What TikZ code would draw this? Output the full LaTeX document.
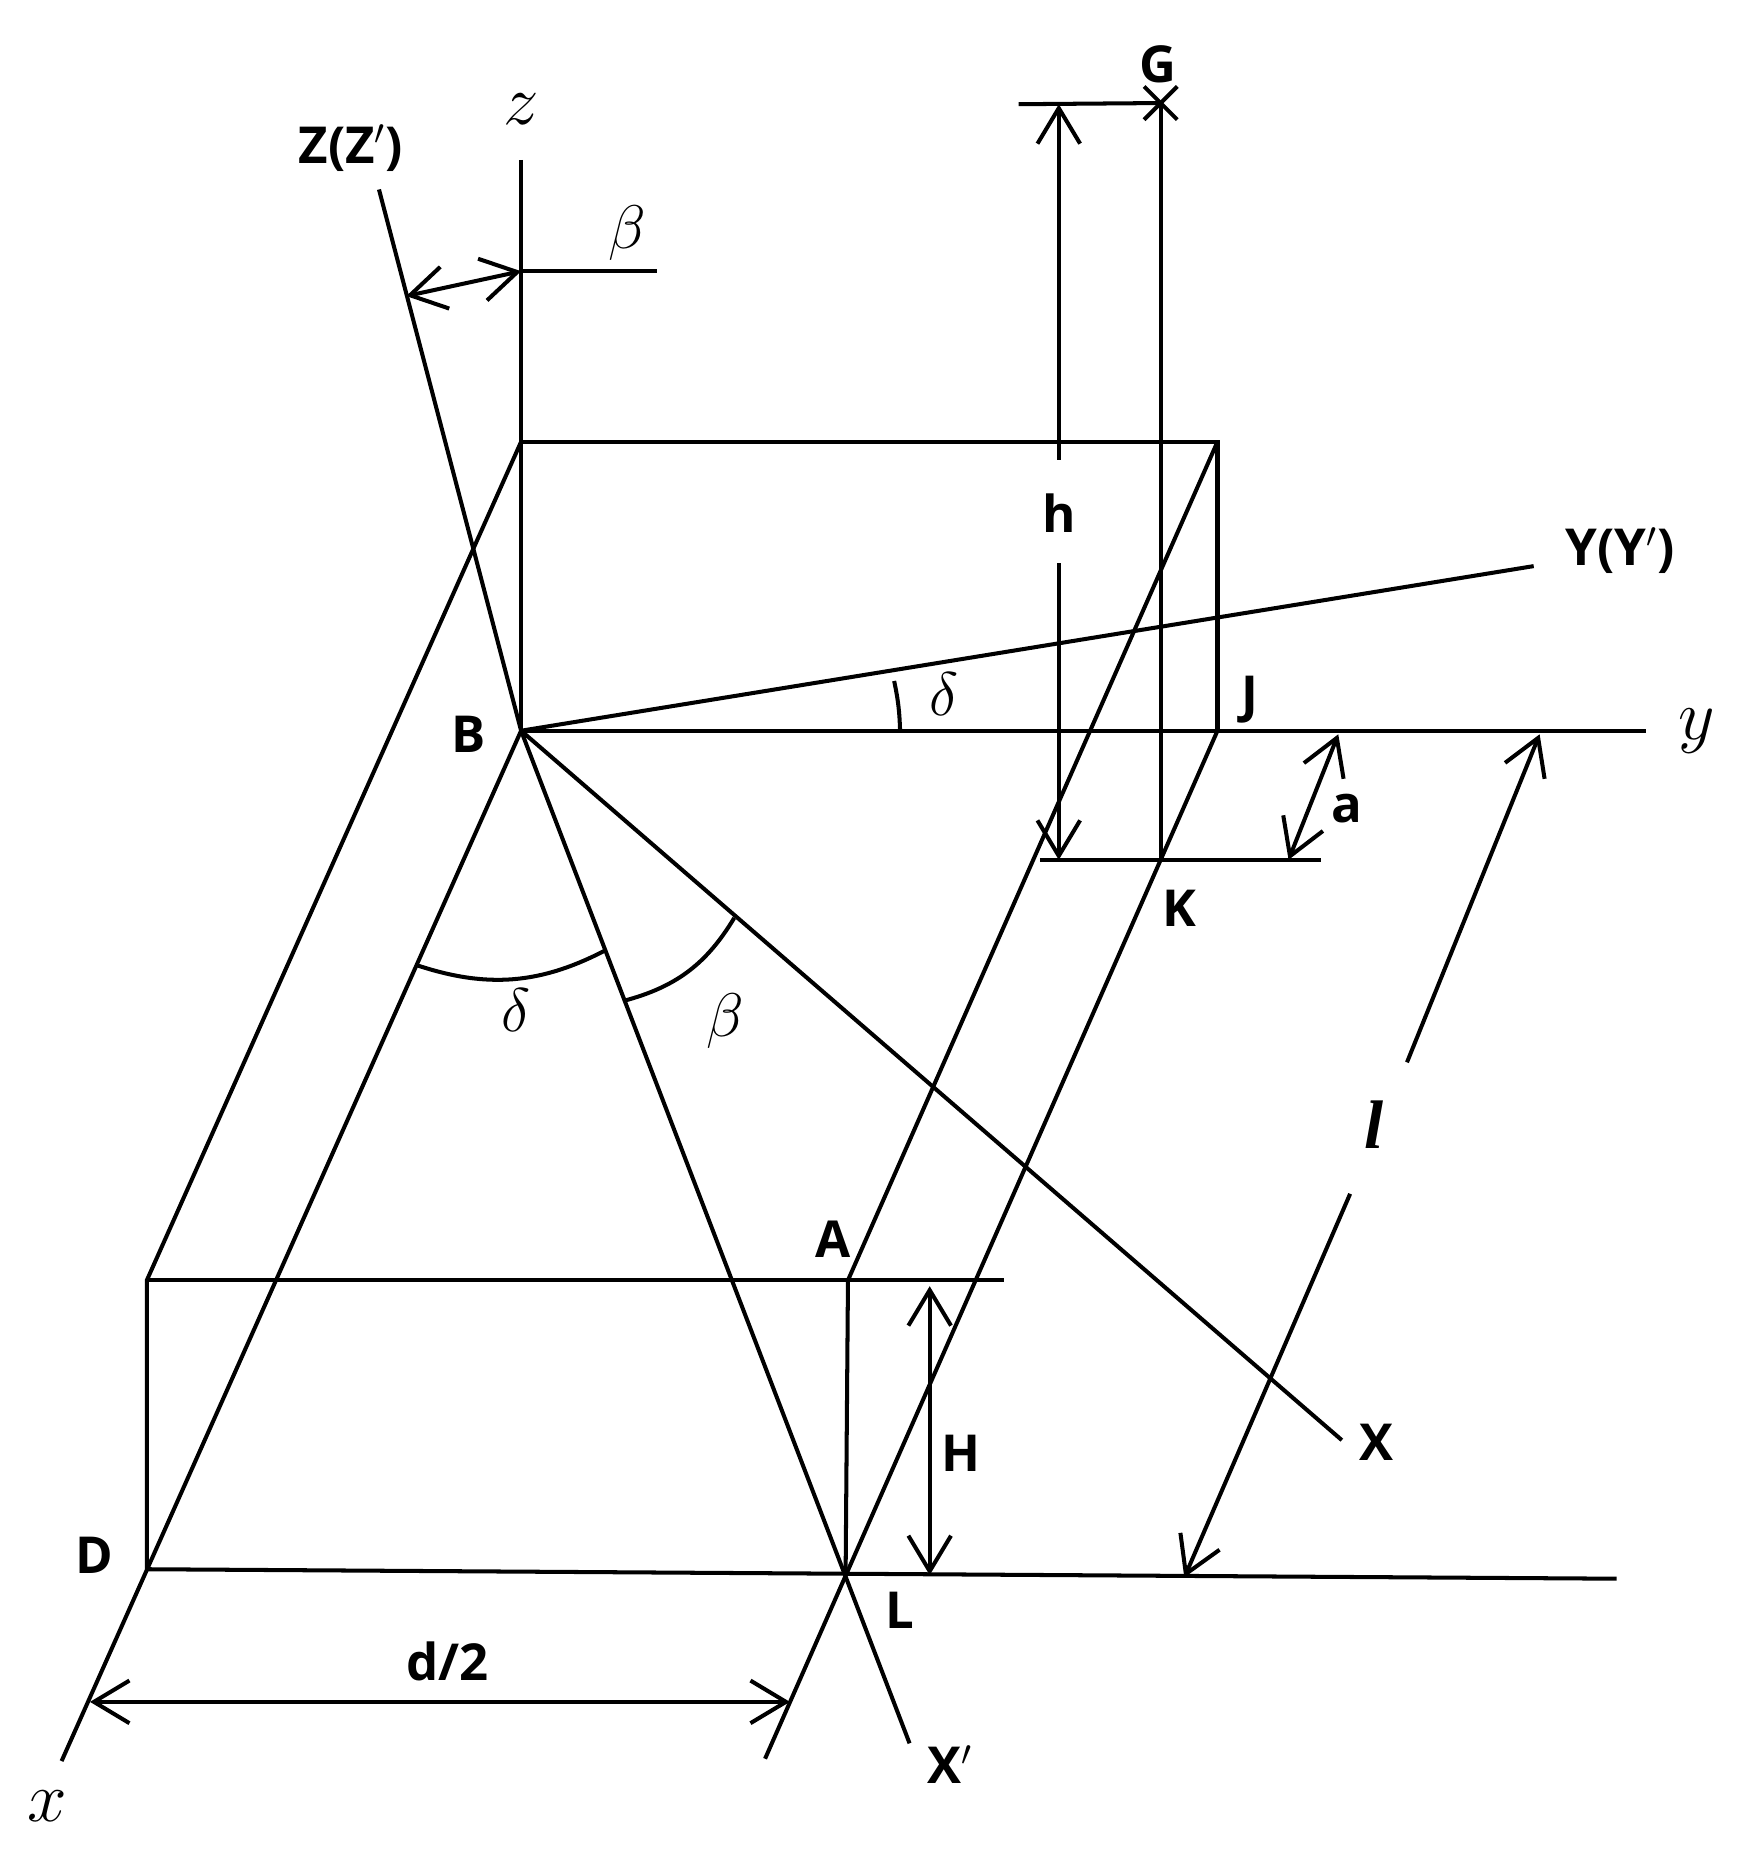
\documentclass[tikz,border=0pt]{standalone}
\usepackage{fix-cm}
\usepackage{amsmath}
\usepackage[no-math]{fontspec}
\setmainfont{Open Sans}
\newfontfamily\elfont{Liberation Serif}
\usetikzlibrary{arrows.meta}
\tikzset{
  ln/.style={line width=3.4pt},
  dim/.style={ln, {Straight Barb[length=30pt,width=36pt,line width=3.4pt]}-{Straight Barb[length=30pt,width=36pt,line width=3.4pt]}},
  tiptop/.style={ln, {Straight Barb[length=30pt,width=36pt,line width=3.4pt]}-},
  lab/.style={font=\fontsize{43}{45}\selectfont\bfseries, inner sep=0pt},
  sym/.style={font=\fontsize{52}{54}\selectfont, inner sep=0pt},
  axs/.style={font=\fontsize{60}{62}\selectfont, inner sep=0pt},
  len/.style={font=\fontsize{58}{60}\selectfont\elfont\bfseries\itshape, inner sep=0pt}
}
\begin{document}
\begin{tikzpicture}[x=1pt,y=-1pt]
  \useasboundingbox (0,0) rectangle (1477,1568);
  % frame points
  \coordinate (B) at (440,617);
  \coordinate (P) at (440,373);
  \coordinate (Q) at (1028,373);
  \coordinate (J) at (1028,617);
  \coordinate (K) at (980,726);
  \coordinate (G) at (980,87);
  \coordinate (R) at (124,1081);
  \coordinate (S) at (716,1081);
  \coordinate (T) at (848,1081);
  \coordinate (D) at (124,1325);
  \coordinate (L) at (714,1330);
  \coordinate (E) at (1365,1333);
  % axis ends
  \coordinate (zEnd) at (440,135);
  \coordinate (yEnd) at (1390,617);
  \coordinate (xEnd) at (52,1487);
  \coordinate (ZEnd) at (320,160);
  \coordinate (YEnd) at (1295,478);
  \coordinate (XEnd) at (1133,1216);
  \coordinate (XpEnd) at (768,1472);
  \coordinate (JEnd) at (646,1485);
  % labels
  \node[lab] (Gl) at (978,54) {G};
  \node[lab] (Zl) at (296,125) {Z(Z$'$)};
  \node[lab] (Yl) at (1368,465) {Y(Y$'$)};
  \node[lab] (Jl) at (1055,591) {J};
  \node[lab] (Bl) at (396,620) {B};
  \node[lab] (Kl) at (996,767) {K};
  \node[lab] (Al) at (703,1046) {A};
  \node[lab] (Dl) at (80,1313) {D};
  \node[lab] (Ll) at (760,1360) {L};
  \node[lab] (Xl) at (1162,1218) {X};
  \node[lab] (Xpl) at (802,1490) {X$'$};
  \node[lab] (hl) at (894,433) {h};
  \node[lab] (al) at (1137,683) {a};
  \node[lab] (Hl) at (811,1227) {H};
  \node[lab] (dl) at (378,1403) {d/2};
  \node[axs] (zl) at (440,92) {$z$};
  \node[axs] (yl) at (1433,617) {$y$};
  \node[axs] (xl) at (40,1525) {$x$};
  \node[sym] (bta) at (530,197) {$\beta$};
  \node[sym] (btb) at (612,862) {$\beta$};
  \node[sym] (dlta) at (797,586) {$\delta$};
  \node[sym] (dltb) at (436,853) {$\delta$};
  \node[len] (ll) at (1160,950) {l};
  % box and axes
  \draw[ln] (zEnd) -- (B) -- (yEnd);
  \draw[ln] (P) -- (Q) -- (J);
  \draw[ln] (B) -- (YEnd);
  \draw[ln] (B) -- (XEnd);
  \draw[ln] (B) -- (xEnd);
  \draw[ln] (ZEnd) -- (B) -- (XpEnd);
  \draw[ln] (P) -- (R) -- (D);
  \draw[ln] (R) -- (T);
  \draw[ln] (S) -- (L);
  \draw[ln] (S) -- (Q);
  \draw[ln] (J) -- (JEnd);
  \draw[ln] (D) -- (E);
  \draw[ln] (G) -- (K);
  % cross at G
  \coordinate (c1) at (966,73);
  \coordinate (c2) at (994,101);
  \coordinate (c3) at (966,101);
  \coordinate (c4) at (994,73);
  \draw[ln] (c1) -- (c2);
  \draw[ln] (c3) -- (c4);
  % extension lines
  \coordinate (gL) at (860,88);
  \coordinate (kL) at (878,726);
  \coordinate (kR) at (1115,726);
  \coordinate (bR) at (555,229);
  \coordinate (bM) at (440,229);
  \draw[ln] (gL) -- (G);
  \draw[ln] (kL) -- (kR);
  \draw[ln] (bM) -- (bR);
  % dimensions
  \coordinate (bZ) at (343,250);
  \draw[dim] (bZ) -- (bM);
  \coordinate (hT) at (894,88);
  \coordinate (hA) at (894,388);
  \coordinate (hB) at (894,475);
  \coordinate (hD) at (894,726);
  \draw[tiptop] (hT) -- (hA);
  \draw[tiptop] (hD) -- (hB);
  \coordinate (aT) at (1130,620);
  \coordinate (aD) at (1088,726);
  \draw[dim] (aT) -- (aD);
  \coordinate (lT) at (1300,620);
  \coordinate (lA) at (1188,897);
  \coordinate (lB) at (1140,1008);
  \coordinate (lD) at (1000,1332);
  \draw[tiptop] (lT) -- (lA);
  \draw[tiptop] (lD) -- (lB);
  \coordinate (HT) at (785,1086);
  \coordinate (HD) at (785,1330);
  \draw[dim] (HT) -- (HD);
  \coordinate (dA) at (76,1437);
  \coordinate (dB) at (667,1437);
  \draw[dim] (dA) -- (dB);
  % angle arcs
  \coordinate (a1) at (760,617);
  \coordinate (a2) at (755,575);
  \coordinate (a3) at (352,815);
  \coordinate (a4) at (512,802);
  \coordinate (a5) at (527,845);
  \coordinate (a6) at (620,775);
  \draw[ln] (a1) to[bend right=5] (a2);
  \draw[ln] (a3) to[bend right=23] (a4);
  \draw[ln] (a5) to[bend right=22] (a6);
\end{tikzpicture}
\end{document}
